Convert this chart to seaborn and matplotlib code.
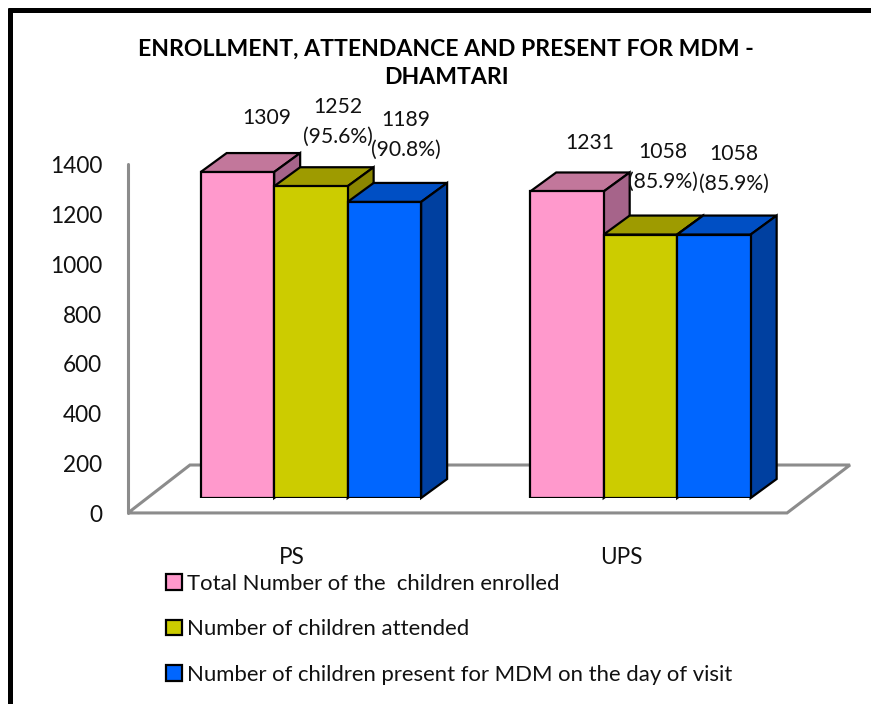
import matplotlib
matplotlib.use('Agg')
import matplotlib.pyplot as plt
from matplotlib.lines import Line2D
from matplotlib.patches import Polygon
from matplotlib.transforms import ScaledTranslation
import pandas as pd
import seaborn as sns

levels = ['PS', 'UPS']
enrolled = [1309, 1231]
attended = [1252, 1058]
present = [1189, 1058]
series_names = [
    'Total Number of the  children enrolled',
    'Number of children attended',
    'Number of children present for MDM on the day of visit',
]
front_colors = ['#ff99cc', '#cccc00', '#0066ff']
top_colors = ['#c2779b', '#9e9b00', '#004fc4']
side_colors = ['#a6648a', '#8a8600', '#0040a0']
value_labels = [
    ['1309', '1231'],
    ['1252\n(95.6%)', '1058\n(85.9%)'],
    ['1189\n(90.8%)', '1058\n(85.9%)'],
]
# label centre relative to the top centre of the bar, in pixels
label_offsets = [
    [(29.5, 54), (22.5, 48)],
    [(27, 64.5), (22.5, 67.5)],
    [(21.5, 67), (20, 65.5)],
]

W, H = 871, 704
DPI = 100
PX = 72 / DPI

sns.set_theme(style='white')
plt.rcParams['font.family'] = ['Lato', 'DejaVu Sans']

df = pd.DataFrame({
    'level': levels * 3,
    'count': enrolled + attended + present,
    'series': [s for s in series_names for _ in levels],
})

fig = plt.figure(figsize=(W / DPI, H / DPI), dpi=DPI)
# axes spans 128..850 px across, zero at y=498 px and 1400 at y=149.4 px
ax = fig.add_axes([128 / W, 1 - 498 / H, 722 / W, 348.6 / H])

sns.barplot(
    data=df, x='level', y='count', hue='series',
    palette=front_colors, saturation=1, width=0.669, gap=0,
    edgecolor='black', linewidth=1.6, ax=ax, zorder=3,
)

ax.set_xlim(-0.555, 1.636)
ax.set_ylim(0, 1400)
ax.set_xlabel('')
ax.set_ylabel('')
sns.despine(ax=ax, left=True, bottom=True)

# depth of the fake 3D in data units
dep_x = 26 / 329.5
dep_y = 19 / 0.249

# floor and back wall line
floor_y0 = -60
floor_y1 = 132.5
ax.add_patch(Polygon(
    [(-0.555, floor_y0), (1.445, floor_y0), (1.636, floor_y1), (-0.367, floor_y1)],
    closed=True, facecolor='white', edgecolor='#8c8c8c', linewidth=2.2,
    clip_on=False, zorder=1,
))
ax.plot([-0.555, -0.555], [floor_y0, 1340], color='#8c8c8c', lw=2.2,
        clip_on=False, zorder=1)

for i, cont in enumerate(ax.containers[:3]):
    for j, bar in enumerate(cont):
        x0 = bar.get_x()
        x1 = x0 + bar.get_width()
        h = bar.get_height()
        z = 3 + i
        bar.set_zorder(z + 0.2)
        ax.add_patch(Polygon(
            [(x0, h), (x0 + dep_x, h + dep_y), (x1 + dep_x, h + dep_y), (x1, h)],
            closed=True, facecolor=top_colors[i], edgecolor='black',
            linewidth=1.6, clip_on=False, zorder=z,
        ))
        ax.add_patch(Polygon(
            [(x1, 0), (x1 + dep_x, dep_y), (x1 + dep_x, h + dep_y), (x1, h)],
            closed=True, facecolor=side_colors[i], edgecolor='black',
            linewidth=1.6, clip_on=False, zorder=z + 0.1,
        ))
        dx, dy = label_offsets[i][j]
        ax.annotate(
            value_labels[i][j], xy=((x0 + x1) / 2, h),
            xytext=(dx * PX, dy * PX), textcoords='offset points',
            ha='center', va='center', fontsize=15.2, color='#111111',
            linespacing=1.64, zorder=10, annotation_clip=False,
        )

ax.set_yticks(range(0, 1401, 200))
ax.tick_params(axis='y', length=0, pad=26 * PX, labelsize=16.3, labelcolor='#111111')
ax.tick_params(axis='x', length=0, pad=49 * PX, labelsize=16.3, labelcolor='#111111')
for t in ax.get_yticklabels():
    t.set_transform(t.get_transform() + ScaledTranslation(0, -15.3 / DPI, fig.dpi_scale_trans))
for t in ax.get_xticklabels():
    t.set_transform(t.get_transform() + ScaledTranslation(-19 / DPI, 0, fig.dpi_scale_trans))

handles, names = ax.get_legend_handles_labels()
leg = ax.legend(
    handles, names, loc='upper left',
    bbox_to_anchor=(159.4 / W, 1 - 567 / H), bbox_transform=fig.transFigure,
    frameon=False, fontsize=15.9, labelspacing=1.16, handlelength=0.72,
    handleheight=0.72, handletextpad=0.25, borderpad=0.3, borderaxespad=0,
    labelcolor='#111111',
)
for h in leg.legend_handles:
    h.set_edgecolor('black')
    h.set_linewidth(1.6)

fig.text(446 / W, 1 - 63.5 / H,
         'ENROLLMENT, ATTENDANCE AND PRESENT FOR MDM -\nDHAMTARI',
         ha='center', va='center', fontsize=16.6, fontweight='bold',
         color='black', linespacing=1.47)

# black page border, left and top only
fig.add_artist(Line2D([10.2 / W, 10.2 / W], [0, 1 - 8 / H], color='black', lw=3.6,
                      solid_capstyle='butt'))
fig.add_artist(Line2D([8 / W, 1], [1 - 10.2 / H, 1 - 10.2 / H], color='black', lw=3.6,
                      solid_capstyle='butt'))

fig.savefig('out.png', dpi=DPI, facecolor='white')
